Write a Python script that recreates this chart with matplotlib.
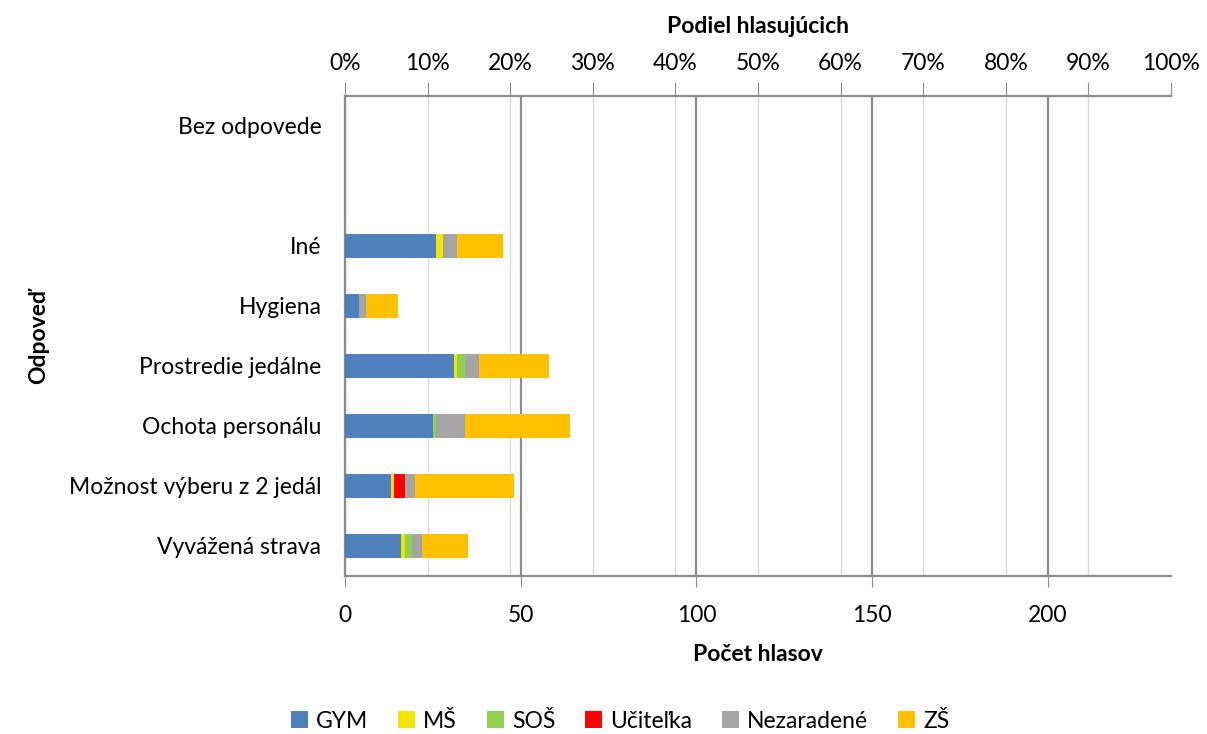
import matplotlib
matplotlib.use("Agg")
import matplotlib.pyplot as plt
import numpy as np

plt.rcParams['font.family'] = ['Lato', 'DejaVu Sans']

categories = ["Bez odpovede", "", "Iné", "Hygiena", "Prostredie jedálne",
              "Ochota personálu", "Možnost výberu z 2 jedál", "Vyvážená strava"]
series_names = ["GYM", "MŠ", "SOŠ", "Učiteľka", "Nezaradené", "ZŠ"]
gym = [0, 0, 26, 4, 31, 25, 13, 16]
ms = [0, 0, 2, 0, 1, 0, 1, 1]
sos = [0, 0, 0, 0, 2, 1, 0, 2]
ucitelka = [0, 0, 0, 0, 0, 0, 3, 0]
nezaradene = [0, 0, 4, 2, 4, 8, 3, 3]
zs = [0, 0, 13, 9, 20, 30, 28, 13]
colors = ["#4F81BD", "#F2E600", "#92D050", "#FF0000", "#A5A5A5", "#FFC000"]
total_voters = 235
pct_ticks = [0, 10, 20, 30, 40, 50, 60, 70, 80, 90, 100]
count_ticks = [0, 50, 100, 150, 200]

FS = 16.5

fig = plt.figure(figsize=(12.07, 7.34), dpi=100)
ax = fig.add_axes([345/1207, 1-576/734, (1171-345)/1207, (576-96)/734])

data = [gym, ms, sos, ucitelka, nezaradene, zs]
y = np.arange(len(categories))
left = np.zeros(len(categories))
for name, vals, c in zip(series_names, data, colors):
    vals = np.array(vals, dtype=float)
    ax.barh(y, vals, left=left, height=0.4, color=c, label=name, zorder=3)
    left += vals

ax.set_ylim(len(categories) - 0.5, -0.5)
ax.set_yticks(y)
ax.set_yticklabels(categories, fontsize=FS)
ax.set_xlim(0, total_voters)
ax.set_xticks(count_ticks)
ax.tick_params(axis='x', labelsize=FS, length=8, color='#8C8C8C', direction='out', pad=13)
ax.tick_params(axis='y', length=0, pad=17)
ax.set_xlabel("Počet hlasov", fontsize=FS, fontweight='bold', labelpad=13)
ax.set_ylabel("Odpoveď", fontsize=FS, fontweight='bold', labelpad=14)
ax.grid(axis='x', color='#8C8C8C', linewidth=1.6, zorder=1)
for s in ['top', 'right']:
    ax.spines[s].set_visible(False)
ax.spines['left'].set_color('#8C8C8C')
ax.spines['left'].set_linewidth(1.6)
ax.spines['bottom'].set_color('#8C8C8C')
ax.spines['bottom'].set_linewidth(1.6)

ax2 = ax.twiny()
ax2.set_xlim(0, 100)
ax2.set_xticks(pct_ticks)
ax2.set_xticklabels([f"{p}%" for p in pct_ticks])
ax2.tick_params(axis='x', labelsize=FS, length=10, color='#8C8C8C', direction='out', pad=6)
for p in pct_ticks[1:-1]:
    ax2.axvline(p, color='#D9D9D9', linewidth=1.0, zorder=0)
ax2.set_xlabel("Podiel hlasujúcich", fontsize=FS, fontweight='bold', labelpad=14)
for s in ['bottom', 'right', 'left']:
    ax2.spines[s].set_visible(False)
ax2.spines['top'].set_color('#8C8C8C')
ax2.spines['top'].set_linewidth(1.6)
ax.set_zorder(ax2.get_zorder() + 1)
ax.patch.set_visible(False)

handles, labels = ax.get_legend_handles_labels()
fig.legend(handles, labels, loc='center', bbox_to_anchor=(620/1207, 1-721/734), ncol=6,
           frameon=False, fontsize=FS, handlelength=0.75, handleheight=0.75,
           handletextpad=0.35, columnspacing=1.3)

fig.savefig("out.png", dpi=100)
